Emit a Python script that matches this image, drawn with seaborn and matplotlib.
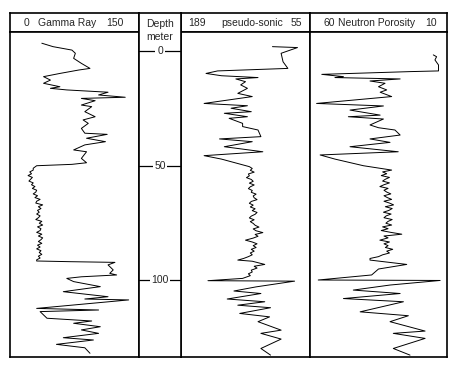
import matplotlib
matplotlib.use('Agg')
import matplotlib.pyplot as plt
import numpy as np
import pandas as pd
import seaborn as sns

sns.set_style('white')
plt.rcParams['font.family'] = ['Liberation Sans', 'DejaVu Sans']

# 测井曲线数据（深度单位：米）
gr_depth = [-3.4, -1.9, -0.4, 1.0, 3.2, 5.4, 7.6, 8.3, 9.8, 11.2,
            12.7, 14.1, 15.6, 16.3, 17.0, 18.0, 19.2, 20.2, 20.7, 21.7,
            23.6, 24.3, 26.5, 28.7, 30.1, 31.6, 33.8, 35.9, 36.4, 38.1,
            39.6, 41.0, 43.2, 44.0, 46.9, 48.8, 49.5, 50.1, 51.2,
            52.0, 52.8, 53.6, 54.4, 55.2, 56.0, 56.8, 57.6, 58.4, 59.2,
            60.0, 60.8, 61.6, 62.4, 63.2, 64.0, 64.8, 65.6, 66.4, 67.2,
            68.0, 68.8, 69.6, 70.4, 71.2, 72.0, 72.8, 73.6, 74.4, 75.2,
            76.0, 76.8, 77.6, 78.4, 79.2, 80.0, 80.8, 81.6, 82.4, 83.2,
            84.0, 84.8, 85.6, 86.4, 87.2, 88.0, 88.8, 89.6, 90.4, 91.2, 91.7,
            92.0, 92.3, 93.4, 95.6, 97.1,
            97.8, 98.6, 99.3, 100.7, 102.9, 105.1, 107.3, 108.3, 108.7, 112.4,
            113.1, 113.8, 116.7, 117.9, 118.9, 120.4, 121.8, 123.3, 125.2, 126.2,
            128.1, 129.6, 132.0]
gr_value = [37, 50, 72, 76, 74, 83, 93, 80, 58, 39,
            47, 39, 58, 47, 66, 114, 103, 134, 83, 99,
            83, 95, 87, 99, 85, 91, 83, 87, 113, 89,
            111, 87, 74, 89, 83, 89, 72, 31, 27,
            27, 23, 25, 21, 26, 24, 22, 27, 25, 29,
            26, 31, 30, 27, 32, 29, 35, 31, 30, 38,
            33, 36, 32, 34, 31, 35, 33, 30, 37, 34,
            38, 32, 36, 35, 31, 37, 33, 38, 36, 33,
            37, 32, 35, 31, 36, 34, 37, 33, 35, 31, 31,
            70, 122, 114, 120, 116,
            124, 83, 66, 74, 105, 62, 114, 87, 138, 31,
            103, 35, 43, 95, 74, 105, 83, 103, 62, 97,
            54, 87, 93]

son_depth = [-1.9, -1.5, 1.0, 4.7, 7.6, 8.7, 9.8, 10.8, 11.6, 12.2,
             13.4, 14.8, 16.3, 18.5, 19.9, 22.9, 23.9, 25.0, 26.5, 27.2,
             28.7, 29.4, 31.6, 33.0, 34.5, 37.4, 38.4, 39.6, 41.8, 44.0,
             45.7, 47.2,
             50.5, 51.3, 52.1, 52.9, 53.7, 54.5, 55.3, 56.1, 56.9, 57.7,
             58.5, 59.3, 60.1, 60.9, 61.7, 62.5, 63.3, 64.1, 64.9, 65.7,
             66.5, 67.3, 68.1, 68.9, 69.7, 70.5, 71.3, 72.1, 72.9, 73.7,
             74.5, 75.3, 76.1, 76.9, 77.7, 78.5, 79.3, 80.1, 80.9, 81.7,
             82.6, 83.4, 84.2, 85.0, 85.8, 86.6, 87.4, 88.2, 89.0, 89.8,
             90.6, 91.3, 91.8, 93.2, 94.0, 94.8, 95.7, 96.5, 97.3, 98.1, 99.3,
             100.3, 100.5, 103.0, 104.8, 105.9, 108.3, 109.5, 111.0, 112.1, 114.6,
             116.1, 118.2, 121.9, 123.3, 125.8, 129.9, 132.8]
son_value = [94, 68, 85, 83, 78, 151, 163, 147, 109, 132,
             122, 127, 120, 130, 115, 165, 120, 137, 116, 144,
             120, 139, 125, 125, 109, 106, 149, 115, 144, 104,
             165, 147,
             118, 115, 117, 113, 119, 118, 121, 116, 114, 118,
             113, 117, 119, 115, 116, 111, 114, 113, 110, 116,
             118, 114, 117, 112, 115, 110, 112, 116, 118, 113,
             117, 114, 112, 108, 114, 111, 104, 112, 109, 114,
             122, 115, 110, 114, 111, 116, 113, 117, 115, 119,
             124, 130, 115, 102, 113, 110, 116, 115, 119, 117, 125,
             161, 71, 111, 134, 106, 141, 102, 130, 96, 128,
             97, 109, 85, 106, 85, 106, 96]

neu_depth = [1.7, 2.5, 3.9, 6.1, 8.7, 9.0, 10.2, 11.2, 11.6, 12.2,
             13.1, 14.1, 15.6, 17.0, 18.0, 19.9, 22.9, 24.0, 25.8, 28.0,
             28.7, 29.7, 32.3, 33.5, 34.5, 36.7, 38.4, 39.9, 41.8, 44.0,
             45.4, 47.2, 50.1, 51.3,
             52.0, 52.8, 53.6, 54.4, 55.2, 56.0, 56.8, 57.6, 58.4, 59.2,
             60.0, 60.8, 61.6, 62.4, 63.2, 64.0, 64.8, 65.6, 66.4, 67.2,
             68.0, 68.8, 69.6, 70.4, 71.2, 72.0, 72.8, 73.6, 74.4, 75.2,
             76.0, 76.8, 77.6, 78.4, 79.2, 80.0, 80.8, 81.6, 82.6, 83.4,
             84.2, 85.0, 85.8, 86.6, 87.4, 88.2, 89.0, 89.8, 90.6, 91.3, 93.2,
             95.2, 97.8, 100.0, 100.2, 102.2, 104.4, 105.9, 108.1, 109.5, 113.9,
             115.6, 118.2, 122.3, 123.3, 125.5, 129.9, 132.8]
neu_value = [15, 13.8, 14.4, 13.1, 13.1, 23.5, 55.7, 47.8, 50.9, 27.1,
             38.1, 32.6, 35, 32, 34.4, 30.2, 57.6, 33.2, 45.4, 34.4,
             46, 33.2, 38.1, 35, 29, 27.1, 38.1, 30.8, 45.4, 27.8,
             56.3, 50.9, 40.5, 34,
             30.2, 33.5, 32, 34, 31, 32.5, 33.5, 31, 33, 34.5,
             31.5, 33, 32, 30.5, 33, 31.8, 30.2, 33, 31, 29.5,
             32.5, 30, 31.2, 33.2, 30.4, 32.2, 33, 30, 31.5, 32.3,
             30.2, 33.5, 31.5, 34, 30.5, 26.5, 33, 31.5, 34.5, 31,
             33, 31.5, 32.5, 29.8, 32, 31, 33.5, 35, 38.1, 38.1, 24.7,
             35, 37.5, 57, 12.5, 30.8, 44.2, 27.1, 47.8, 25.9, 41.7,
             24.1, 30.8, 18, 29.6, 18, 29.6, 23.5]

depth_ticks = [0, 50, 100]

W, H = 459, 371
TOP, HEAD, BOTTOM = 13, 32, 357
D0_PX, PX_PER_M = 51, 2.29
FS = 7.5


def box(x0, y0, x1, y1):
    # 像素坐标（左上为原点）转换为图形比例
    return [x0 / W, 1 - y1 / H, (x1 - x0) / W, (y1 - y0) / H]


def px2depth(y):
    return (y - D0_PX) / PX_PER_M


def frame(ax):
    ax.set_xticks([])
    ax.set_yticks([])
    ax.set_xlabel('')
    ax.set_ylabel('')
    for s in ax.spines.values():
        s.set_visible(True)
        s.set_color('black')
        s.set_linewidth(1.2)


fig = plt.figure(figsize=(W / 100, H / 100), dpi=100)

# 名称, 左刻度, 右刻度, 范围, 数据, 左右边界(像素), 表头文字左端(像素)
tracks = [
    ('Gamma Ray', '0', '150', (0, 150), gr_value, gr_depth, 10, 139, (24, 38, 106)),
    ('pseudo-sonic', '189', '55', (189, 55), son_value, son_depth, 181, 310, (188, 221, 291)),
    ('Neutron Porosity', '60', '10', (60, 10), neu_value, neu_depth, 310, 447, (324, 338, 425)),
]

for name, lo_lab, hi_lab, xlim, vals, depths, x0, x1, tpos in tracks:
    hax = fig.add_axes(box(x0, TOP, x1, HEAD))
    frame(hax)
    for txt, px in zip([lo_lab, name, hi_lab], tpos):
        hax.text((px - x0) / (x1 - x0), 0.5, txt, ha='left', va='center',
                 fontsize=FS, transform=hax.transAxes)

    ax = fig.add_axes(box(x0, HEAD, x1, BOTTOM))
    sns.lineplot(x=vals, y=depths, sort=False, estimator=None, orient='y',
                 color='black', linewidth=0.7, ax=ax)
    ax.set_xlim(*xlim)
    ax.set_ylim(px2depth(BOTTOM), px2depth(HEAD))
    frame(ax)

# 深度列
dax = fig.add_axes(box(139, TOP, 181, BOTTOM))
dax.set_xlim(0, 1)
dax.set_ylim(px2depth(BOTTOM), px2depth(TOP))
frame(dax)
dax.text(0.5, px2depth(24), 'Depth', ha='center', va='center', fontsize=FS)
dax.text(0.5, px2depth(37), 'meter', ha='center', va='center', fontsize=FS)
for d in depth_ticks:
    dax.plot([0, 1], [d, d], color='black', linewidth=0.9)
    dax.text(0.5, d, str(d), ha='center', va='center', fontsize=FS,
             bbox=dict(facecolor='white', edgecolor='none', pad=1.2))

fig.savefig('out.png', dpi=100)
